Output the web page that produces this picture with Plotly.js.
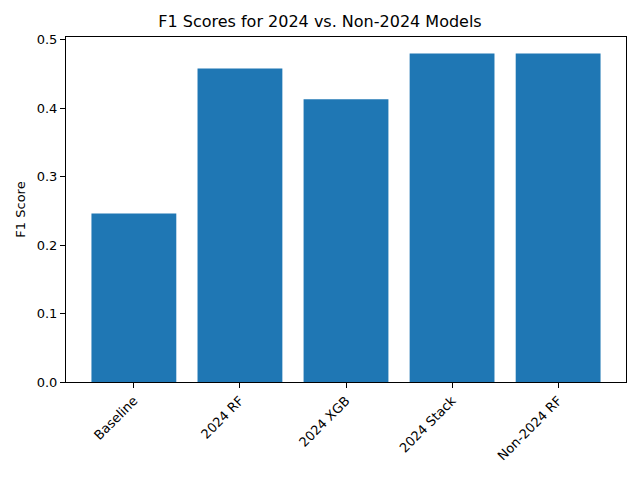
<!DOCTYPE html>
<html>
<head>
<script src="https://cdn.plot.ly/plotly-3.0.1.min.js"></script>
<style>body{margin:0}</style>
</head>
<body>
<div id="plot" style="width:640px;height:480px"></div>
<script>
let models = ['Baseline', '2024 RF', '2024 XGB', '2024 Stack', 'Non-2024 RF']
let f1_scores = [0.246, 0.458, 0.413, 0.480, 0.480]

let bar_trace = {
  x: models,
  y: f1_scores,
  type: 'bar',
  width: 0.8,
  marker: {color: '#1f77b4'}
}

let axis_style = {
  showline: true, mirror: true, linecolor: 'black', linewidth: 1,
  ticks: 'outside', ticklen: 5, tickcolor: 'black',
  showgrid: false, zeroline: false,
  tickfont: {size: 13, color: 'black'}
}

let layout = {
  font: {family: 'DejaVu Sans', color: 'black'},
  title: {text: 'F1 Scores for 2024 vs. Non-2024 Models', font: {size: 16}, x: 0.5, xanchor: 'center', y: 0.955, yanchor: 'middle'},
  margin: {l: 66, r: 14, t: 37, b: 98},
  paper_bgcolor: 'white',
  plot_bgcolor: 'white',
  xaxis: Object.assign({}, axis_style, {range: [-0.64, 4.64], tickangle: -45}),
  yaxis: Object.assign({}, axis_style, {range: [0, 0.504], dtick: 0.1, tickformat: '.1f',
    title: {text: 'F1 Score', font: {size: 13}, standoff: 8}}),
  showlegend: false
}

Plotly.newPlot('plot', [bar_trace], layout, {displayModeBar: false})
</script>
</body>
</html>
